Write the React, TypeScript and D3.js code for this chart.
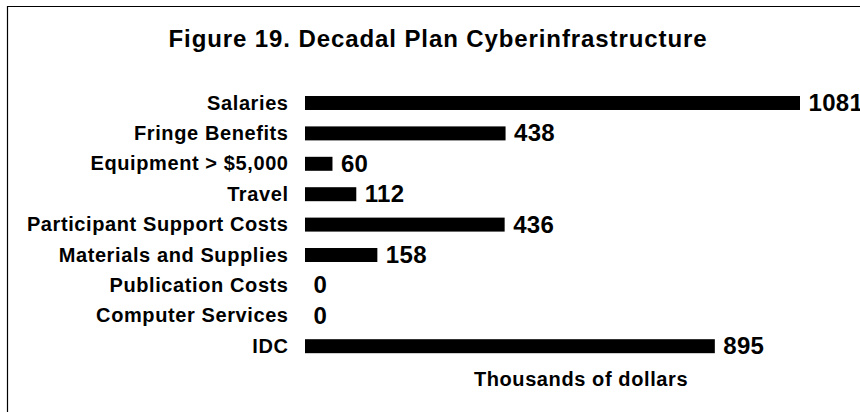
import React from "react";
import * as d3 from "d3";

const categories = [
  "Salaries",
  "Fringe Benefits",
  "Equipment > $5,000",
  "Travel",
  "Participant Support Costs",
  "Materials and Supplies",
  "Publication Costs",
  "Computer Services",
  "IDC",
];
const values = [1081, 438, 60, 112, 436, 158, 0, 0, 895];
const title = "Figure 19. Decadal Plan Cyberinfrastructure";
const axisTitle = "Thousands of dollars";

const W = 860;
const H = 412;
const FONT = "'Liberation Sans', Arial, Helvetica, sans-serif";

export default function App() {
  const x = d3.scaleLinear().domain([0, 1081]).range([305, 800]);
  const y = d3
    .scaleBand<string>()
    .domain(categories)
    .range([87.8, 361.4])
    .paddingInner(0.54)
    .paddingOuter(0.27);
  const bw = y.bandwidth();

  return (
    <svg
      width={W}
      height={H}
      style={{ position: "absolute", left: 0, top: 0, background: "#fff" }}
      fontFamily={FONT}
    >
      <rect x={0} y={0} width={W} height={H} fill="#fff" />
      <path d={`M7.5,${H + 2} V6.5 H${W + 2}`} fill="none" stroke="#000" strokeWidth={1.2} />
      <text
        x={438}
        y={46.5}
        textAnchor="middle"
        fontSize={24}
        fontWeight="bold"
        letterSpacing={0.9}
        fill="#000"
      >
        {title}
      </text>
      {categories.map((c, i) => {
        const cy = (y(c) as number) + bw / 2;
        const v = values[i];
        return (
          <g key={c}>
            <text
              x={288.6}
              y={cy}
              dy={6.5}
              textAnchor="end"
              fontSize={20}
              fontWeight="bold"
              letterSpacing={0.6}
              fill="#000"
            >
              {c}
            </text>
            {v > 0 && (
              <rect x={x(0)} y={y(c)} width={x(v) - x(0)} height={bw} fill="#000" />
            )}
            <text
              x={x(v) + 8.5}
              y={cy}
              dy={8}
              fontSize={24}
              fontWeight="bold"
              letterSpacing={0.3}
              fill="#000"
            >
              {v}
            </text>
          </g>
        );
      })}
      <text
        x={581}
        y={386}
        textAnchor="middle"
        fontSize={20}
        fontWeight="bold"
        letterSpacing={0.6}
        fill="#000"
      >
        {axisTitle}
      </text>
    </svg>
  );
}
